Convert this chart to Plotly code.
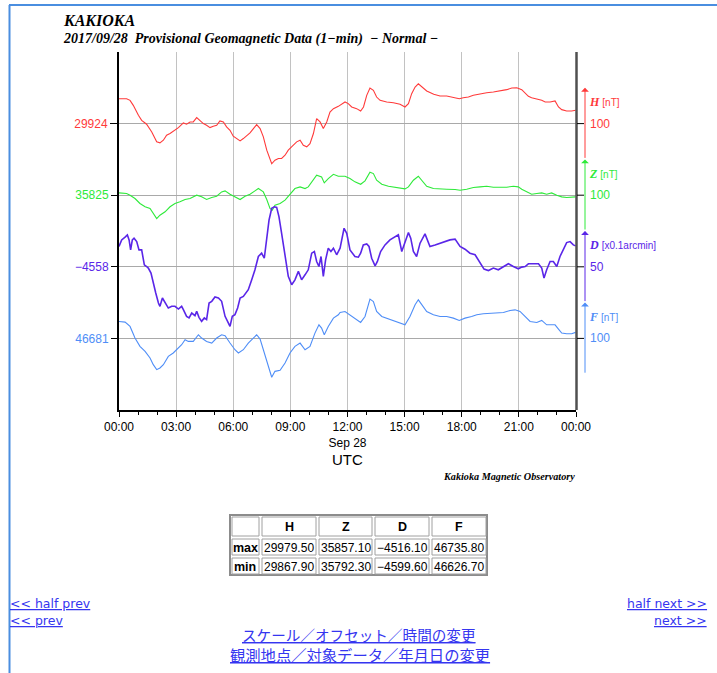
import plotly.graph_objects as go
import pandas as pd

# ---------------- data ----------------
DAY = "2017-09-28"

H_hours = [0.00,0.40,0.58,0.75,1.02,1.19,1.45,1.72,1.98,2.15,2.33,2.50,2.68,2.94,3.12,3.38,3.55,3.73,3.90,4.08,
           4.25,4.43,4.60,4.78,4.95,5.13,5.30,5.48,5.65,5.83,6.00,6.18,6.36,6.53,6.71,6.88,7.06,7.23,7.41,7.58,
           7.76,7.93,8.02,8.19,8.37,8.54,8.72,8.89,9.16,9.33,9.51,9.68,9.86,10.03,10.21,10.38,10.56,10.73,10.91,11.08,
           11.26,11.52,11.87,12.04,12.22,12.48,12.69,12.84,13.01,13.18,13.36,13.53,13.71,14.06,14.41,14.76,15.02,15.20,15.37,15.55,
           15.72,15.90,16.16,16.53,16.86,17.21,17.56,17.87,18.08,18.35,18.61,18.96,19.31,19.66,20.01,20.36,20.63,20.89,21.15,21.33,
           21.50,21.67,21.94,22.20,22.38,22.64,22.90,23.08,23.25,23.51,23.77,23.98]
H_vals = [29958.8,29958.8,29956.5,29949.5,29935.6,29928.6,29923.1,29912.4,29898.5,29897.1,
          29900.8,29907.8,29910.1,29914.7,29918.4,29924.9,29923.1,29926.3,29926.3,29932.4,
          29927.7,29924.0,29921.7,29918.4,29920.3,29921.7,29927.7,29926.3,29919.4,29914.7,
          29906.4,29903.1,29899.9,29903.1,29906.8,29911.0,29917.0,29922.6,29917.0,29905.4,
          29886.9,29875.3,29867.9,29872.9,29875.3,29875.3,29879.9,29886.9,29893.8,29898.5,
          29900.8,29893.8,29891.5,29896.1,29910.1,29931.0,29926.3,29917.0,29926.3,29940.2,
          29944.9,29948.1,29954.2,29951.9,29947.2,29944.9,29941.6,29947.2,29963.5,29973.7,
          29970.4,29961.1,29956.5,29954.2,29953.2,29950.9,29947.2,29951.9,29965.8,29975.1,
          29979.5,29975.1,29969.5,29964.9,29962.5,29962.5,29961.1,29958.8,29960.2,29961.1,
          29963.5,29965.8,29967.2,29968.1,29969.5,29971.4,29973.7,29974.1,29971.4,29965.8,
          29962.1,29960.2,29958.8,29956.5,29954.2,29954.2,29955.6,29947.2,29943.5,29941.6,
          29941.6,29942.6]

Z_hours = [0.00,0.40,0.58,0.84,1.10,1.37,1.63,1.80,1.98,2.15,2.42,2.68,2.94,3.20,3.47,3.73,4.08,4.34,4.60,4.87,
           5.13,5.39,5.57,5.83,6.09,6.36,6.62,6.88,7.14,7.32,7.58,7.76,7.93,8.05,8.19,8.46,8.72,8.98,9.24,9.51,
           9.77,9.94,10.21,10.38,10.64,10.78,10.99,11.26,11.52,11.87,12.13,12.39,12.69,12.92,13.18,13.36,13.53,13.80,14.15,14.58,
           15.02,15.20,15.46,15.72,15.90,16.16,16.51,16.86,17.21,17.65,17.91,18.26,18.61,18.96,19.31,19.66,20.01,20.36,20.71,20.97,
           21.15,21.41,21.67,21.94,22.20,22.46,22.72,22.99,23.25,23.51,23.77,23.98]
Z_vals = [35828.2,35827.3,35825.0,35820.4,35813.4,35808.8,35806.4,35799.5,35792.3,35797.1,
          35801.8,35808.8,35813.4,35815.7,35819.0,35820.4,35825.0,35822.7,35819.0,35821.8,
          35823.6,35829.6,35831.0,35826.4,35822.7,35819.0,35823.6,35826.4,35831.0,35834.3,
          35829.6,35819.0,35806.4,35804.1,35811.1,35813.4,35818.0,35826.4,35834.3,35836.6,
          35834.3,35836.6,35845.9,35852.9,35850.5,35842.2,35848.2,35854.2,35851.5,35851.5,
          35848.2,35843.6,35840.3,35845.0,35857.1,35855.2,35845.9,35840.3,35837.5,35835.2,
          35833.8,35836.6,35845.9,35851.5,35845.9,35837.5,35834.3,35834.3,35833.4,35832.9,
          35832.0,35833.4,35835.7,35836.6,35837.5,35836.1,35836.1,35836.1,35837.5,35836.6,
          35833.4,35829.6,35826.4,35827.3,35828.2,35826.4,35828.2,35825.0,35822.7,35821.8,
          35821.8,35822.7]

D_hours = [0.00,0.14,0.32,0.44,0.53,0.61,0.70,0.79,0.93,1.05,1.19,1.33,1.45,1.54,1.68,1.80,1.93,2.07,2.15,2.28,
           2.42,2.59,2.77,2.94,3.12,3.29,3.38,3.55,3.68,3.82,3.99,4.08,4.20,4.34,4.48,4.60,4.73,4.87,5.04,5.22,
           5.39,5.57,5.74,5.83,5.95,6.09,6.23,6.36,6.53,6.79,6.97,7.14,7.32,7.49,7.63,7.76,7.88,8.02,8.16,8.28,
           8.40,8.54,8.72,8.89,9.07,9.24,9.42,9.59,9.77,9.94,10.12,10.26,10.38,10.50,10.61,10.73,10.85,10.99,11.13,11.26,
           11.43,11.61,11.82,11.96,12.13,12.39,12.57,12.69,12.83,13.01,13.13,13.27,13.45,13.57,13.74,13.97,14.23,14.50,14.67,14.85,
           15.02,15.20,15.32,15.46,15.63,15.81,16.07,16.19,16.33,16.60,16.86,17.12,17.38,17.65,17.91,18.17,18.43,18.70,18.87,19.05,
           19.17,19.40,19.66,19.92,20.19,20.45,20.71,20.97,21.15,21.33,21.50,21.76,22.03,22.20,22.32,22.46,22.64,22.81,22.99,23.16,
           23.34,23.51,23.69,23.86,23.98]
D_vals = [-4543.8,-4539.2,-4537.3,-4535.7,-4539.2,-4546.2,-4539.2,-4538.0,-4540.4,-4546.2,
          -4546.2,-4556.6,-4557.8,-4558.9,-4562.4,-4568.2,-4576.3,-4583.3,-4585.6,-4579.8,
          -4583.3,-4586.8,-4585.6,-4585.6,-4587.5,-4585.6,-4587.9,-4592.6,-4593.7,-4590.3,
          -4592.1,-4589.1,-4593.3,-4596.1,-4593.7,-4594.9,-4583.3,-4582.1,-4579.1,-4579.8,
          -4582.1,-4592.6,-4597.2,-4599.6,-4592.6,-4591.4,-4586.8,-4579.8,-4578.7,-4574.0,
          -4567.1,-4560.1,-4550.8,-4548.5,-4552.0,-4539.2,-4525.3,-4517.1,-4516.1,-4516.5,
          -4522.9,-4534.6,-4550.8,-4564.7,-4570.5,-4567.1,-4561.2,-4567.1,-4563.6,-4560.1,
          -4548.5,-4547.3,-4554.3,-4557.8,-4550.8,-4564.7,-4553.1,-4545.0,-4547.3,-4545.0,
          -4549.6,-4545.0,-4531.1,-4534.6,-4546.2,-4550.8,-4551.3,-4548.5,-4542.7,-4542.0,
          -4543.8,-4552.0,-4557.3,-4554.3,-4547.3,-4542.7,-4539.2,-4536.9,-4535.7,-4547.3,
          -4541.5,-4534.1,-4538.0,-4547.3,-4550.8,-4541.5,-4535.0,-4539.2,-4543.8,-4542.7,
          -4541.5,-4540.4,-4539.2,-4538.7,-4543.8,-4545.7,-4548.5,-4549.6,-4553.1,-4556.6,
          -4559.6,-4560.6,-4558.9,-4560.1,-4557.8,-4555.9,-4557.8,-4559.4,-4558.2,-4557.8,
          -4555.9,-4555.9,-4555.9,-4558.9,-4565.9,-4560.1,-4554.3,-4554.3,-4557.8,-4550.8,
          -4546.2,-4541.1,-4540.4,-4542.7,-4543.4]

F_hours = [0.00,0.32,0.58,0.84,1.10,1.37,1.63,1.80,1.98,2.15,2.33,2.59,2.85,3.12,3.29,3.47,3.64,3.90,4.17,4.34,
           4.60,4.87,5.13,5.39,5.57,5.83,6.09,6.27,6.53,6.79,7.06,7.23,7.41,7.58,7.76,7.93,8.02,8.19,8.46,8.72,
           8.98,9.24,9.51,9.77,10.03,10.29,10.50,10.64,10.78,10.99,11.26,11.52,11.61,11.87,12.13,12.39,12.69,12.92,13.18,13.36,
           13.53,13.80,14.15,14.50,14.85,15.02,15.28,15.55,15.72,15.90,16.16,16.51,16.86,17.21,17.56,17.87,18.17,18.52,18.79,19.13,
           19.48,19.84,20.19,20.54,20.80,21.06,21.33,21.59,21.94,22.20,22.46,22.72,22.90,23.08,23.25,23.51,23.77,23.98]
F_vals = [46704.7,46703.7,46697.7,46681.5,46669.9,46662.9,46653.6,46644.3,46637.4,46639.7,
          46644.3,46655.9,46660.6,46667.5,46672.2,46679.1,46676.8,46676.8,46686.1,46681.5,
          46676.8,46674.5,46681.5,46686.1,46684.7,46674.5,46665.2,46660.6,46665.2,46674.5,
          46682.4,46686.1,46680.1,46665.2,46646.6,46632.7,46626.7,46635.0,46636.4,46646.6,
          46660.6,46669.9,46674.5,46665.2,46669.9,46688.4,46700.0,46695.4,46686.1,46697.7,
          46709.3,46714.0,46717.2,46718.6,46714.0,46709.3,46703.3,46711.6,46735.8,46732.5,
          46718.6,46711.6,46708.4,46705.6,46702.4,46700.0,46711.6,46727.9,46734.9,46727.9,
          46718.6,46714.0,46711.6,46711.6,46709.3,46706.1,46709.3,46711.6,46714.0,46715.4,
          46716.3,46716.3,46717.2,46720.0,46720.9,46718.6,46711.6,46704.7,46703.3,46706.1,
          46700.0,46700.0,46700.0,46694.0,46688.4,46687.5,46687.5,46689.4]

# offsets (left labels) and right-hand scale labels
COMPONENTS = ["H", "Z", "D", "F"]
OFFSETS = [29924, 35825, -4558, 46681]
OFFSET_LABELS = ["29924", "35825", "\u22124558", "46681"]
SCALE_LABELS = ["100", "100", "50", "100"]
UNIT_LABELS = ["[nT]", "[nT]", "[x0.1arcmin]", "[nT]"]

X_TICK_HOURS = [0, 3, 6, 9, 12, 15, 18, 21, 24]
X_TICK_LABELS = ["00:00", "03:00", "06:00", "09:00", "12:00<br>Sep 28", "15:00", "18:00", "21:00", "00:00"]

TABLE_HEADER = ["", "H", "Z", "D", "F"]
TABLE_MAX = [29979.50, 35857.10, -4516.10, 46735.80]
TABLE_MIN = [29867.90, 35792.30, -4599.60, 46626.70]

# ---------------- styling ----------------
COLORS = ["#ff3a3a", "#2eea3a", "#5a26e8", "#4f8ef7"]
WIDTHS = [1.1, 1.1, 1.6, 1.1]
# axis windows (below, above) around each offset; full height = 500 nT / 250 x0.1'
WINDOWS = [(400, 100), (300, 200), (100, 150), (100, 400)]
HALF_ARROW = [50, 50, 25, 50]
LABEL_UP = [30, 30, 15, 30]

W, HGT = 717, 673
PX0, PX1, PY0, PY1 = 119, 576, 52, 410


def fx(x):
    return x / W


def fy(y):
    return 1 - y / HGT


day = pd.Timestamp(DAY)


def to_time(hours):
    return [day + pd.Timedelta(hours=h) for h in hours]


SANS = "Liberation Sans, Arial, sans-serif"
SERIF = "Liberation Serif, Times New Roman, serif"
JP = "Noto Sans CJK JP, sans-serif"
LINKFONT = "DejaVu Sans, sans-serif"
LINK = "#3535f0"

fig = go.Figure()
series = [(H_hours, H_vals), (Z_hours, Z_vals), (D_hours, D_vals), (F_hours, F_vals)]
axis_ids = ["y", "y2", "y3", "y4"]
for i, (hh, vv) in enumerate(series):
    fig.add_trace(go.Scatter(x=to_time(hh), y=vv, mode="lines", name=COMPONENTS[i],
                             line=dict(color=COLORS[i], width=WIDTHS[i]),
                             yaxis=axis_ids[i], hoverinfo="skip", showlegend=False))

ydom = [fy(PY1), fy(PY0)]
layout = dict(
    width=W, height=HGT, autosize=False,
    margin=dict(l=0, r=0, t=0, b=0, pad=0),
    paper_bgcolor="white", plot_bgcolor="white",
    showlegend=False,
    xaxis=dict(domain=[fx(PX0), fx(PX1)], type="date", automargin=False,
               range=[day, day + pd.Timedelta(hours=24)],
               tickmode="array",
               tickvals=[day + pd.Timedelta(hours=h) for h in X_TICK_HOURS],
               ticktext=X_TICK_LABELS,
               tickfont=dict(size=12, color="black", family=SANS),
               ticks="outside", ticklen=5, tickcolor="black", tickwidth=1,
               showgrid=True, gridcolor="#c2c2c2", gridwidth=1,
               showline=True, linecolor="black", linewidth=2,
               zeroline=False, fixedrange=True, anchor="y",
               minor=dict(ticks="outside", ticklen=3, tickcolor="black",
                          tickmode="linear", tick0=day, dtick=3600000, showgrid=False)),
)
for i in range(4):
    lo, hi = WINDOWS[i]
    ax = dict(domain=ydom, range=[OFFSETS[i] - lo, OFFSETS[i] + hi], automargin=False,
              tickmode="array", tickvals=[OFFSETS[i]], ticktext=[OFFSET_LABELS[i]],
              tickfont=dict(size=12, color=COLORS[i], family=SANS),
              ticks="outside", ticklen=7, tickcolor="black", tickwidth=1,
              showgrid=True, gridcolor="#a9a9a9", gridwidth=1,
              zeroline=False, fixedrange=True, anchor="x", side="left")
    if i == 0:
        ax.update(showline=True, linecolor="black", linewidth=2)
        layout["yaxis"] = ax
    else:
        ax.update(showline=False, overlaying="y")
        layout["yaxis%d" % (i + 1)] = ax
fig.update_layout(**layout)

shapes = []
annotations = []

# page frame (blue border at top and left)
shapes.append(dict(type="line", xref="paper", yref="paper", x0=fx(9), x1=1.0, y0=fy(5), y1=fy(5),
                   line=dict(color="#4a8ee0", width=2)))
shapes.append(dict(type="line", xref="paper", yref="paper", x0=fx(9.5), x1=fx(9.5), y0=fy(5), y1=0,
                   line=dict(color="#4a8ee0", width=2)))
# right axis line
shapes.append(dict(type="line", xref="paper", yref="paper", x0=fx(576.5), x1=fx(576.5),
                   y0=fy(PY0), y1=fy(PY1), line=dict(color="#505050", width=2.5)))

for i in range(4):
    yid = axis_ids[i]
    base = OFFSETS[i]
    shapes.append(dict(type="line", xref="paper", yref=yid, x0=fx(577), x1=fx(584), y0=base, y1=base,
                       line=dict(color="black", width=1)))
    annotations.append(dict(xref="paper", yref=yid, x=fx(585), y=base + HALF_ARROW[i],
                            text="", showarrow=True, axref="pixel", ayref=yid,
                            ax=0, ay=base - HALF_ARROW[i],
                            arrowhead=1, arrowsize=1.3, arrowwidth=1, arrowcolor=COLORS[i], standoff=0))
    annotations.append(dict(xref="paper", yref=yid, x=fx(588), y=base, xanchor="left", yanchor="middle",
                            text=SCALE_LABELS[i], showarrow=False,
                            font=dict(size=12, color=COLORS[i], family=SANS)))
    annotations.append(dict(xref="paper", yref=yid, x=fx(587), y=base + LABEL_UP[i],
                            xanchor="left", yanchor="middle", showarrow=False,
                            text="<b><i>%s</i></b> <span style='font-family:Liberation Sans;font-size:10px'>%s</span>"
                                 % (COMPONENTS[i], UNIT_LABELS[i]),
                            font=dict(size=12, color=COLORS[i], family=SERIF)))

# titles
annotations.append(dict(xref="paper", yref="paper", x=fx(61), y=fy(20), xanchor="left", yanchor="middle",
                        showarrow=False, text="<b><i>KAKIOKA</i></b>",
                        font=dict(size=16, color="black", family=SERIF)))
annotations.append(dict(xref="paper", yref="paper", x=fx(61), y=fy(39), xanchor="left", yanchor="middle",
                        showarrow=False,
                        text="<b><i>2017/09/28\u00a0\u00a0Provisional Geomagnetic Data (1\u2212min)\u00a0\u00a0\u2212 Normal \u2212</i></b>",
                        font=dict(size=14, color="black", family=SERIF)))
annotations.append(dict(xref="paper", yref="paper", x=fx(347.5), y=fy(459), xanchor="center", yanchor="middle",
                        showarrow=False, text="UTC", font=dict(size=15, color="black", family=SANS)))
annotations.append(dict(xref="paper", yref="paper", x=fx(577), y=fy(476), xanchor="right", yanchor="middle",
                        showarrow=False, text="<b><i>Kakioka Magnetic Observatory</i></b>",
                        font=dict(size=10.2, color="black", family=SERIF)))

# table
col_edges = [230, 260, 317, 373, 430, 487]
row_edges = [515, 537, 556, 575]
shapes.append(dict(type="rect", xref="paper", yref="paper", x0=fx(col_edges[0]), x1=fx(col_edges[-1]),
                   y0=fy(row_edges[0]), y1=fy(row_edges[-1]), line=dict(color="#8c8c8c", width=2)))


def fmt(v):
    s = "%.2f" % abs(v)
    return ("\u2212" + s) if v < 0 else s


rows = [TABLE_HEADER, ["max"] + [fmt(v) for v in TABLE_MAX], ["min"] + [fmt(v) for v in TABLE_MIN]]
for r in range(3):
    for c in range(5):
        x0, x1 = col_edges[c] + 2, col_edges[c + 1] - 1
        y0, y1 = row_edges[r] + 2, row_edges[r + 1] - 1
        shapes.append(dict(type="rect", xref="paper", yref="paper", x0=fx(x0), x1=fx(x1),
                           y0=fy(y0), y1=fy(y1), line=dict(color="#a0a0a0", width=1)))
        txt = rows[r][c]
        if not txt:
            continue
        bold = (r == 0) or (c == 0)
        annotations.append(dict(xref="paper", yref="paper", x=fx((x0 + x1) / 2), y=fy((y0 + y1) / 2 + 0.5),
                                xanchor="center", yanchor="middle", showarrow=False,
                                text=("<b>%s</b>" % txt) if bold else txt,
                                font=dict(size=12 if not bold else 12.5, color="black", family=SANS)))

# navigation links
links = [("&lt;&lt; half prev", 9, 603, "left", 12.5, LINKFONT),
         ("&lt;&lt; prev", 9, 620, "left", 12.5, LINKFONT),
         ("half next &gt;&gt;", 708, 603, "right", 12.5, LINKFONT),
         ("next &gt;&gt;", 708, 620, "right", 12.5, LINKFONT),
         ("スケール／オフセット／時間の変更", 359, 634.5, "center", 14.6, JP),
         ("観測地点／対象データ／年月日の変更", 360, 653.5, "center", 15.3, JP)]
for txt, x, y, anc, sz, fam in links:
    annotations.append(dict(xref="paper", yref="paper", x=fx(x), y=fy(y), xanchor=anc, yanchor="middle",
                            showarrow=False, text=txt, borderpad=0,
                            font=dict(size=sz, color=LINK, family=fam, lineposition="under")))

fig.update_layout(shapes=shapes, annotations=annotations)
fig.write_html("out.html", config={"displayModeBar": False},
               post_script="document.body.style.margin='0';document.body.style.overflow='hidden';")
